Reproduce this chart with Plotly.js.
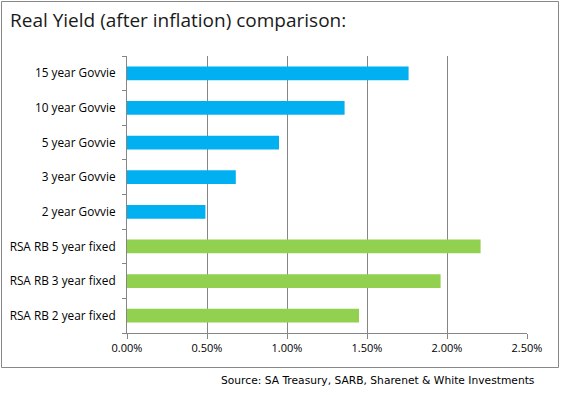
<!DOCTYPE html>
<html>
<head>
<meta charset="utf-8">
<script src="https://cdn.plot.ly/plotly-3.0.1.min.js"></script>
<style>
  html, body { margin: 0; padding: 0; background: #fff; }
  #chart { width: 566px; height: 395px; }
</style>
</head>
<body>
<div id="chart"></div>
<script>
// Data (top to bottom)
const categories = [
  "15 year Govvie",
  "10 year Govvie",
  "5 year Govvie",
  "3 year Govvie",
  "2 year Govvie",
  "RSA RB 5 year fixed",
  "RSA RB 3 year fixed",
  "RSA RB 2 year fixed"
];
const realYield = [0.0176, 0.0136, 0.0095, 0.0068, 0.0049, 0.0221, 0.0196, 0.0145];
const groups = ["govvie", "govvie", "govvie", "govvie", "govvie", "rb", "rb", "rb"];
const tickValues = [0, 0.005, 0.01, 0.015, 0.02, 0.025];
const titleText = "Real Yield (after inflation) comparison:";
const sourceText = "Source: SA Treasury, SARB, Sharenet & White Investments";

const groupColors = { govvie: "#00B0F0", rb: "#92D050" };

const trace = {
  type: "bar",
  orientation: "h",
  y: categories,
  x: realYield,
  marker: { color: groups.map(g => groupColors[g]) },
  hoverinfo: "y+x",
  showlegend: false
};

const W = 566, H = 395;
const L = 127, R = 39, T = 56, B = 62;
const pw = W - L - R, ph = H - T - B;
const px = v => (v - L) / pw;
const py = v => (H - B - v) / ph;

const layout = {
  width: W,
  height: H,
  margin: { l: L, r: R, t: T, b: B, pad: 0 },
  paper_bgcolor: "#ffffff",
  plot_bgcolor: "#ffffff",
  bargap: 0.6,
  font: { family: "Open Sans, sans-serif", color: "#000000" },
  title: {
    text: titleText,
    x: 10 / W, xanchor: "left",
    y: 1 - 20 / H, yanchor: "middle",
    font: { family: "Open Sans, sans-serif", size: 19, color: "#1a1a1a" }
  },
  xaxis: {
    range: [0, 0.025],
    tickvals: tickValues,
    tickformat: ".2%",
    showgrid: true,
    gridcolor: "#868686",
    gridwidth: 1,
    zeroline: false,
    showline: true,
    linecolor: "#868686",
    linewidth: 1,
    ticks: "outside",
    ticklen: 5,
    tickcolor: "#868686",
    tickfont: { size: 11, color: "#000000" },
    fixedrange: true
  },
  yaxis: {
    type: "category",
    categoryorder: "array",
    categoryarray: categories.slice().reverse(),
    showline: true,
    linecolor: "#868686",
    linewidth: 1,
    ticks: "outside",
    ticklen: 4,
    tickcolor: "#868686",
    tickson: "boundaries",
    showgrid: false,
    zeroline: false,
    tickfont: { size: 11.8, color: "#000000" },
    ticklabelstandoff: 8,
    fixedrange: true
  },
  shapes: [{
    type: "rect",
    xref: "paper", yref: "paper",
    x0: px(1.5), x1: px(558.5),
    y0: py(367.5), y1: py(1.5),
    line: { color: "#888888", width: 1 },
    fillcolor: "rgba(0,0,0,0)",
    layer: "below"
  }],
  annotations: [{
    text: sourceText,
    xref: "paper", yref: "paper",
    x: px(537), xanchor: "right",
    y: py(380), yanchor: "middle",
    showarrow: false,
    font: { family: "DejaVu Sans, sans-serif", size: 10.7, color: "#000000" }
  }]
};

Plotly.newPlot("chart", [trace], layout, { displayModeBar: false, staticPlot: true });
</script>
</body>
</html>
